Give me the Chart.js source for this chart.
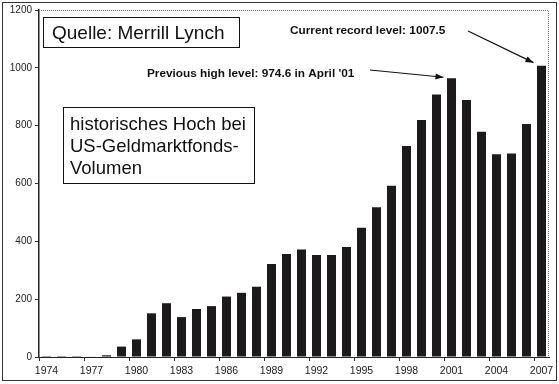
<!DOCTYPE html>
<html><head><meta charset="utf-8">
<script src="https://cdn.jsdelivr.net/npm/chart.js@4"></script>
<style>html,body{margin:0;padding:0;background:#fff}#wrap{width:559px;height:384px;position:relative}</style>
</head><body><div id="wrap"><canvas id="c" width="559" height="384"></canvas></div>
<script>
const years = ['1974','1975','1976','1977','1978','1979','1980','1981','1982','1983','1984','1985','1986','1987','1988','1989','1990','1991','1992','1993','1994','1995','1996','1997','1998','1999','2000','2001','2002','2003','2004','2005','2006','2007'];
const volumes = [3,3,3,2,6,36,61,151,186,138,166,176,209,222,243,322,356,372,353,353,380,447,518,592,730,820,908,964,889,779,701,704,806,1007.5];
const xTickLabels = ['1974','1977','1980','1983','1986','1989','1992','1995','1998','2001','2004','2007'];
const yTicks = [0,200,400,600,800,1000,1200];
const sourceText = 'Quelle: Merrill Lynch';
const titleLines = ['historisches Hoch bei','US-Geldmarktfonds-','Volumen'];
const prevHighText = "Previous high level: 974.6 in April '01";
const prevHighYear = '2001';
const recordText = 'Current record level: 1007.5';
const recordYear = '2007';

const FONT = '"Liberation Sans", Arial, sans-serif';

function arrow(ctx, x1, y1, x2, y2) {
  ctx.beginPath(); ctx.moveTo(x1, y1); ctx.lineTo(x2, y2); ctx.stroke();
  const a = Math.atan2(y2 - y1, x2 - x1), L = 8, W = 3;
  ctx.beginPath();
  ctx.moveTo(x2, y2);
  ctx.lineTo(x2 - L*Math.cos(a) + W*Math.sin(a), y2 - L*Math.sin(a) - W*Math.cos(a));
  ctx.lineTo(x2 - L*Math.cos(a) - W*Math.sin(a), y2 - L*Math.sin(a) + W*Math.cos(a));
  ctx.closePath(); ctx.fill();
}

const overlay = {
  id: 'overlay',
  afterDraw(chart) {
    const ctx = chart.ctx, a = chart.chartArea, xs = chart.scales.x, ys = chart.scales.y;
    ctx.save();
    ctx.strokeStyle = '#777'; ctx.lineWidth = 1; ctx.setLineDash([1, 1]);
    ctx.beginPath();
    ctx.moveTo(a.left, a.top + 0.5); ctx.lineTo(a.right - 0.5, a.top + 0.5); ctx.lineTo(a.right - 0.5, a.bottom);
    ctx.stroke();
    ctx.setLineDash([]);
    ctx.strokeStyle = '#333';
    ctx.strokeRect(2.5, 2.5, 554, 378);
    ctx.strokeStyle = '#111';
    ctx.strokeRect(43.5, 17.5, 196, 30);
    ctx.fillStyle = '#111';
    ctx.font = '19px ' + FONT; ctx.textBaseline = 'alphabetic'; ctx.textAlign = 'left';
    ctx.fillText(sourceText, 52, 39);
    ctx.strokeRect(63.5, 107.5, 191, 76);
    ctx.font = '18.5px ' + FONT;
    titleLines.forEach((t, i) => ctx.fillText(t, 70, 130 + i * 22));
    ctx.font = 'bold 11.8px ' + FONT;
    ctx.textBaseline = 'middle';
    ctx.fillText(prevHighText, 147, 74);
    ctx.fillText(recordText, 290, 31);
    ctx.strokeStyle = '#111'; ctx.lineWidth = 1.2;
    const i1 = years.indexOf(prevHighYear), i2 = years.indexOf(recordYear);
    arrow(ctx, 370, 70, xs.getPixelForValue(i1) - 8, ys.getPixelForValue(volumes[i1]) - 1);
    arrow(ctx, 468, 31, xs.getPixelForValue(i2) - 8, ys.getPixelForValue(volumes[i2]) - 3);
    ctx.restore();
  }
};

new Chart(document.getElementById('c'), {
  type: 'bar',
  data: { labels: years, datasets: [{ data: volumes, backgroundColor: '#1c1a1b', borderWidth: 0, barPercentage: 0.6, categoryPercentage: 1 }] },
  options: {
    responsive: false, animation: false, devicePixelRatio: 1,
    layout: { padding: { top: 10, right: 10, left: 0, bottom: 0 } },
    plugins: { legend: { display: false }, tooltip: { enabled: false } },
    scales: {
      x: {
        offset: true,
        grid: { offset: true, drawOnChartArea: false, tickLength: 4, color: c => (c.index % 3 === 0 ? '#333' : 'rgba(0,0,0,0)') },
        border: { color: '#222', width: 1 },
        ticks: { autoSkip: false, maxRotation: 0, minRotation: 0, padding: 4, color: '#222', font: { family: FONT, size: 10.5 },
          callback: function(v, i) { const l = this.getLabelForValue(v); return xTickLabels.includes(l) ? l : ''; } },
        afterFit: s => { s.height = 27; }
      },
      y: {
        min: 0, max: 1200,
        afterBuildTicks: s => { s.ticks = yTicks.map(v => ({ value: v })); },
        grid: { drawOnChartArea: false, tickLength: 4, color: '#333' },
        border: { color: '#222', width: 1.5 },
        ticks: { padding: 3, color: '#222', font: { family: FONT, size: 10 }, callback: v => String(v) },
        afterFit: s => { s.width = 39; }
      }
    }
  },
  plugins: [overlay]
});
</script></body></html>
